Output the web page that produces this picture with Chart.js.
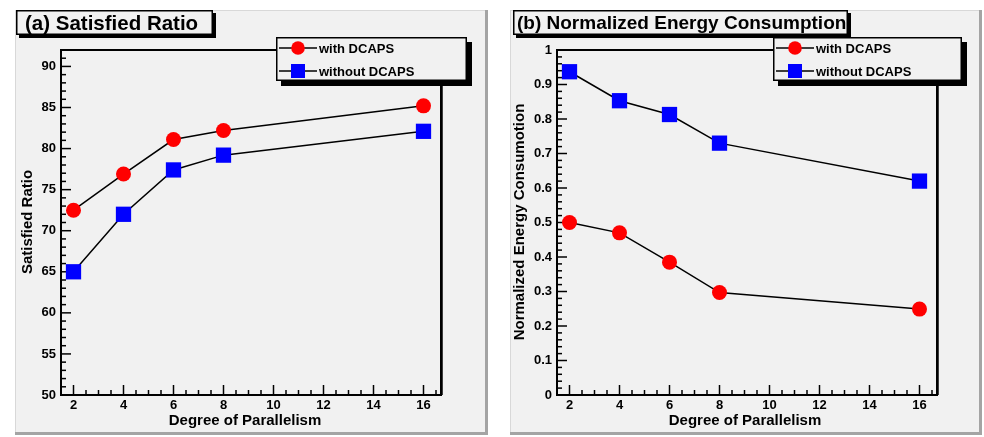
<!DOCTYPE html>
<html><head><meta charset="utf-8">
<script src="https://cdn.jsdelivr.net/npm/chart.js@4/dist/chart.umd.min.js"></script>
<style>
html,body{margin:0;padding:0;background:#fff;width:984px;height:437px;overflow:hidden}
canvas{position:absolute}
#c1{left:15px;top:10px}
#c2{left:510px;top:10px}
</style></head><body>
<canvas id="c1" width="473" height="425"></canvas>
<canvas id="c2" width="472" height="425"></canvas>
<script>
// ---- data ----
const parallelism = [2, 4, 6, 8, 16];
const ratioWith = [72.5, 76.9, 81.1, 82.2, 85.2];
const ratioWithout = [65.0, 72.0, 77.4, 79.2, 82.1];
const energyWith = [0.50, 0.47, 0.385, 0.297, 0.249];
const energyWithout = [0.937, 0.853, 0.813, 0.73, 0.62];
const xTickLabels = [2, 4, 6, 8, 10, 12, 14, 16];
const ratioTickLabels = [50, 55, 60, 65, 70, 75, 80, 85, 90];
const energyTickLabels = [0, 0.1, 0.2, 0.3, 0.4, 0.5, 0.6, 0.7, 0.8, 0.9, 1];
const seriesNames = ['with DCAPS', 'without DCAPS'];
const panelTitles = ['(a) Satisfied Ratio', '(b) Normalized Energy Consumption'];
const xAxisTitle = 'Degree of Parallelism';
const yAxisTitles = ['Satisfied Ratio', 'Normalized Energy Consumotion'];

const FONT = '"Liberation Sans", Arial, Helvetica, sans-serif';
Chart.defaults.font.family = FONT;
Chart.defaults.font.weight = 'bold';
Chart.defaults.font.size = 13;
Chart.defaults.color = '#000';

const rootStyle = {
  id: 'rootStyle',
  beforeDraw(chart, args, o) {
    const ctx = chart.ctx, W = chart.width, H = chart.height;
    ctx.save();
    ctx.fillStyle = '#f1f1f1';
    ctx.fillRect(0, 0, W, H);
    ctx.fillStyle = '#d8d8d8';
    ctx.fillRect(0, 0, W, 1);
    ctx.fillRect(0, 0, 1, H);
    ctx.fillStyle = '#a4a4a4';
    ctx.fillRect(W - 3, 0, 3, H);
    ctx.fillRect(0, H - 3, W, 3);
    ctx.restore();
  },
  beforeDatasetsDraw(chart, args, o) {
    const ctx = chart.ctx, ca = chart.chartArea;
    ctx.save();
    ctx.strokeStyle = '#000';
    ctx.lineWidth = 2;
    ctx.strokeRect(ca.left, ca.top, ca.right - ca.left, ca.bottom - ca.top);
    ctx.lineWidth = 2.5;
    ctx.beginPath(); ctx.moveTo(ca.right + 0.5, ca.top); ctx.lineTo(ca.right + 0.5, ca.bottom); ctx.stroke();
    ctx.lineWidth = 1.5;
    const ticks = (scale, minor, major, isX) => {
      const n0 = Math.ceil(scale.min / minor - 1e-6), n1 = Math.floor(scale.max / minor + 1e-6);
      for (let i = n0; i <= n1; i++) {
        const v = i * minor;
        const isMajor = Math.abs(v / major - Math.round(v / major)) < 1e-6;
        const len = isMajor ? 10 : 5;
        const p = scale.getPixelForValue(v);
        ctx.beginPath();
        if (isX) { ctx.moveTo(p, ca.bottom); ctx.lineTo(p, ca.bottom - len); }
        else { ctx.moveTo(ca.left, p); ctx.lineTo(ca.left + len, p); }
        ctx.stroke();
      }
    };
    ticks(chart.scales.x, o.xMinor, o.xMajor, true);
    ticks(chart.scales.y, o.yMinor, o.yMajor, false);
    ctx.restore();
  },
  afterDraw(chart, args, o) {
    const ctx = chart.ctx;
    ctx.save();
    // title box
    const tb = o.titleBox;
    ctx.fillStyle = '#000';
    ctx.fillRect(tb.x + 3, tb.y + 3, tb.w, tb.h);
    ctx.fillStyle = '#f1f1f1';
    ctx.fillRect(tb.x, tb.y, tb.w, tb.h);
    ctx.strokeStyle = '#000'; ctx.lineWidth = 1.5;
    ctx.strokeRect(tb.x + 0.75, tb.y + 0.75, tb.w - 1.5, tb.h - 1.5);
    ctx.fillStyle = '#000';
    ctx.font = 'bold ' + o.titleSize + 'px ' + FONT;
    ctx.textBaseline = 'middle'; ctx.textAlign = 'left';
    ctx.fillText(o.title, o.titleX, tb.y + tb.h / 2 + 1.5);
    // legend box
    const lb = o.legendBox;
    ctx.fillStyle = '#000';
    ctx.fillRect(lb.x + 5, lb.y + 5, lb.w, lb.h);
    ctx.fillStyle = '#f1f1f1';
    ctx.fillRect(lb.x, lb.y, lb.w, lb.h);
    ctx.strokeRect(lb.x + 0.75, lb.y + 0.75, lb.w - 1.5, lb.h - 1.5);
    ctx.font = 'bold 13px ' + FONT;
    chart.data.datasets.forEach((ds, i) => {
      const yy = lb.y + 11 + i * 23;
      ctx.strokeStyle = '#000'; ctx.lineWidth = 1.5;
      ctx.beginPath(); ctx.moveTo(lb.x + 3, yy); ctx.lineTo(lb.x + 41, yy); ctx.stroke();
      ctx.fillStyle = ds.pointBackgroundColor;
      if (ds.pointStyle === 'rect') ctx.fillRect(lb.x + 22 - 7, yy - 7, 14, 14);
      else { ctx.beginPath(); ctx.arc(lb.x + 22, yy, 6.8, 0, Math.PI * 2); ctx.fill(); }
      ctx.fillStyle = '#000';
      ctx.fillText(ds.label, lb.x + 43, yy + 1);
    });
    // axis titles
    ctx.font = 'bold 15px ' + FONT;
    ctx.textAlign = 'center';
    ctx.fillText(o.xTitle, o.xTitlePos[0], o.xTitlePos[1]);
    ctx.translate(o.yTitlePos[0], o.yTitlePos[1]);
    ctx.rotate(-Math.PI / 2);
    ctx.fillText(o.yTitle, 0, 0);
    ctx.restore();
  }
};

function makeChart(id, withVals, withoutVals, yMin, yMax, yTickVals, yWidth, padRight, deco) {
  const toPts = vals => parallelism.map((x, i) => ({x: x, y: vals[i]}));
  return new Chart(document.getElementById(id), {
    type: 'line',
    data: {
      datasets: [
        {label: seriesNames[0], data: toPts(withVals), borderColor: '#000', borderWidth: 1.5,
         pointStyle: 'circle', pointRadius: 7.5, pointBackgroundColor: '#ff0000', pointBorderWidth: 0,
         pointHoverRadius: 7.5, clip: false},
        {label: seriesNames[1], data: toPts(withoutVals), borderColor: '#000', borderWidth: 1.5,
         pointStyle: 'rect', pointRadius: 10.8, pointBackgroundColor: '#0000ff', pointBorderWidth: 0,
         pointHoverRadius: 10.8, clip: false}
      ]
    },
    options: {
      responsive: false, animation: false, devicePixelRatio: 1,
      layout: {padding: {top: 40, right: padRight, left: 0, bottom: 0}},
      plugins: {legend: {display: false}, tooltip: {enabled: false}, rootStyle: deco},
      scales: {
        x: {type: 'linear', min: 1.5, max: 16.7,
            grid: {display: false, drawTicks: false}, border: {display: false},
            afterBuildTicks: s => { s.ticks = xTickLabels.map(v => ({value: v})); },
            afterFit: s => { s.height = 40; },
            ticks: {padding: 3, font: {size: 13, weight: 'bold'}, color: '#000', maxRotation: 0, autoSkip: false}},
        y: {type: 'linear', min: yMin, max: yMax,
            grid: {display: false, drawTicks: false}, border: {display: false},
            afterBuildTicks: s => { s.ticks = yTickVals.map(v => ({value: v})); },
            afterFit: s => { s.width = yWidth; },
            ticks: {padding: 5, font: {size: 13, weight: 'bold'}, color: '#000', autoSkip: false,
                    callback: v => String(v)}}
      }
    },
    plugins: [rootStyle]
  });
}

makeChart('c1', ratioWith, ratioWithout, 50, 92, ratioTickLabels, 46, 47, {
  xMinor: 0.5, xMajor: 2, yMinor: 1, yMajor: 5,
  title: panelTitles[0], titleSize: 20.5, titleX: 10,
  titleBox: {x: 1, y: 0, w: 197, h: 25},
  legendBox: {x: 261, y: 27, w: 191, h: 44},
  xTitle: xAxisTitle, xTitlePos: [230, 411],
  yTitle: yAxisTitles[0], yTitlePos: [13, 212]
});
makeChart('c2', energyWith, energyWithout, 0, 1, energyTickLabels, 47, 45, {
  xMinor: 0.5, xMajor: 2, yMinor: 0.02, yMajor: 0.1,
  title: panelTitles[1], titleSize: 19, titleX: 7,
  titleBox: {x: 3, y: 0, w: 335, h: 25},
  legendBox: {x: 263, y: 27, w: 189, h: 44},
  xTitle: xAxisTitle, xTitlePos: [235, 411],
  yTitle: yAxisTitles[1], yTitlePos: [10, 212]
});
</script>
</body></html>
